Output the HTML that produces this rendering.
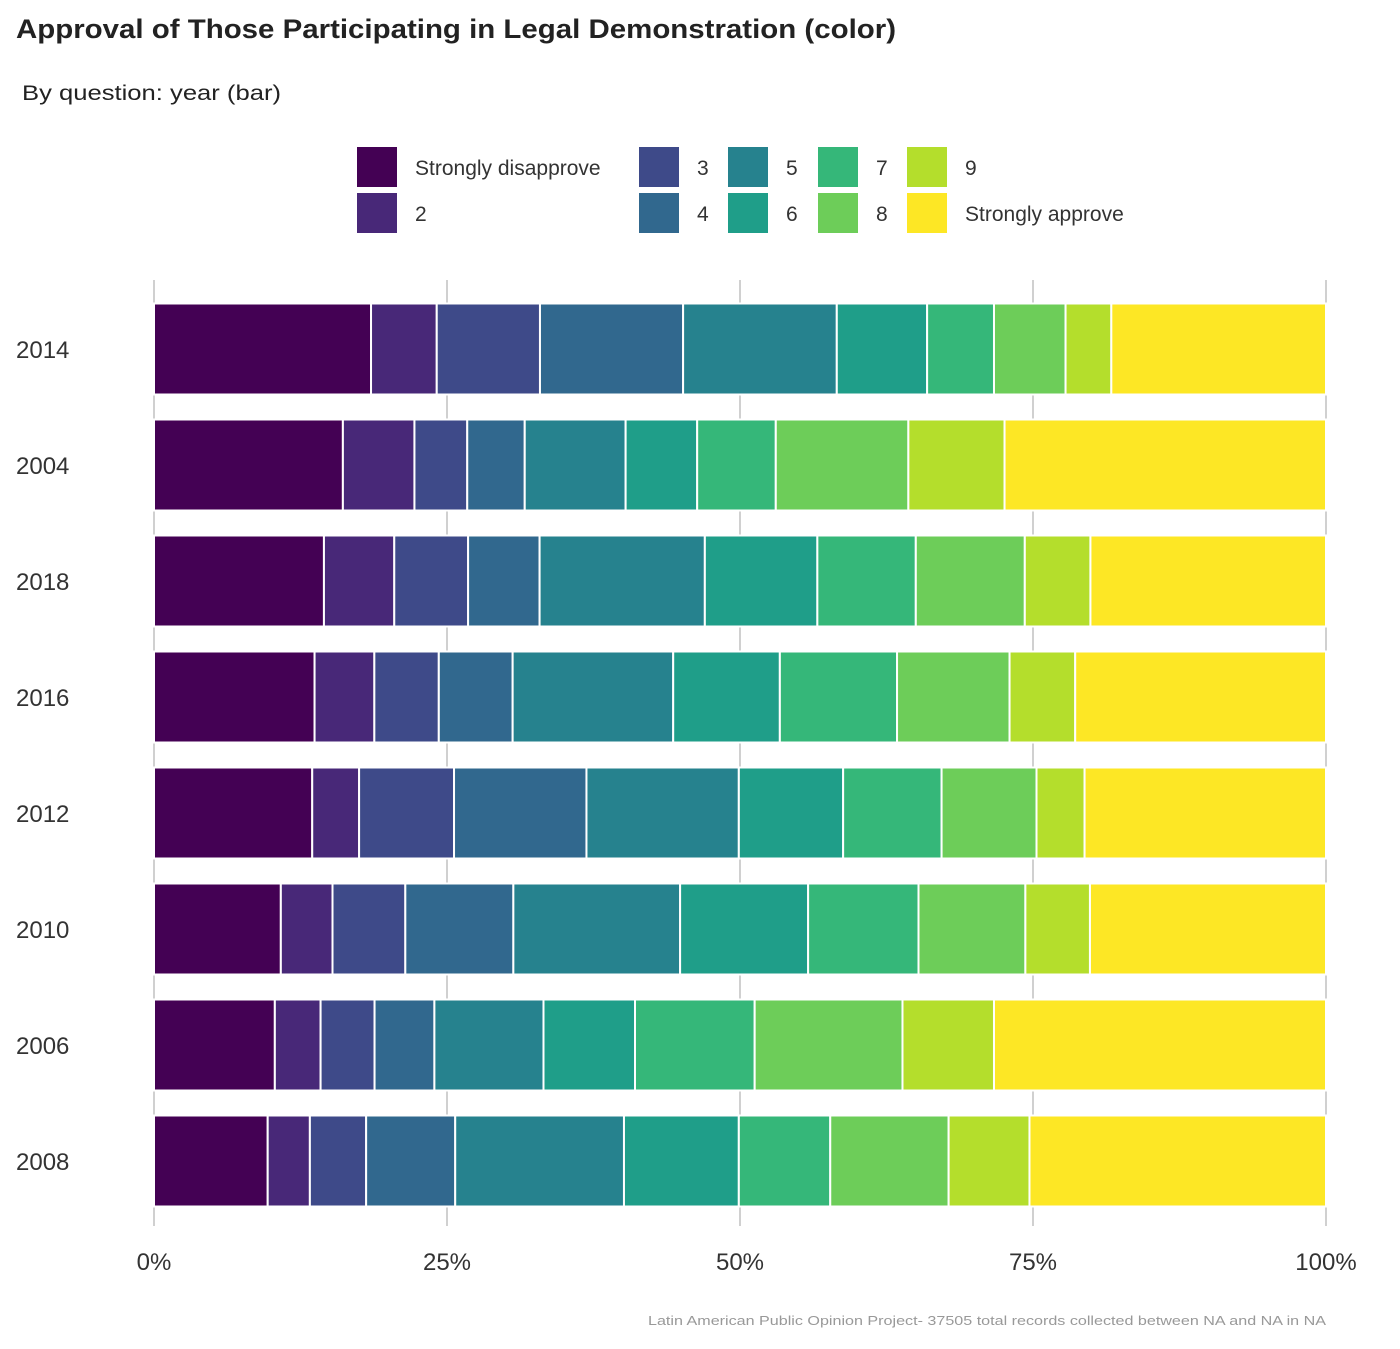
<!DOCTYPE html>
<html><head><meta charset="utf-8"><style>
body{margin:0;background:#fff;font-family:"Liberation Sans",sans-serif;}
</style></head><body>
<svg id="chart" width="1400" height="1344" xmlns="http://www.w3.org/2000/svg" font-family="Liberation Sans, sans-serif">
<text x="16" y="38" font-size="27" font-weight="bold" fill="#222" textLength="880" lengthAdjust="spacingAndGlyphs">Approval of Those Participating in Legal Demonstration (color)</text>
<text x="22" y="100" font-size="21" fill="#222" textLength="259" lengthAdjust="spacingAndGlyphs">By question: year (bar)</text>
<g id="grid"></g><g id="bars"></g><g id="legend"></g><g id="axes"></g>
<text x="648" y="1325" font-size="13" fill="#999" textLength="678" lengthAdjust="spacingAndGlyphs">Latin American Public Opinion Project- 37505 total records collected between NA and NA in  NA</text>
</svg>
<script>
const years=["2014","2004","2018","2016","2012","2010","2006","2008"];
const categories=["Strongly disapprove","2","3","4","5","6","7","8","9","Strongly approve"];
const v2014=[18.5,5.6,8.8,12.2,13.1,7.7,5.7,6.1,3.9,18.3];
const v2004=[16.1,6.1,4.5,4.9,8.6,6.1,6.7,11.3,8.2,27.4];
const v2018=[14.5,6.0,6.3,6.1,14.1,9.6,8.4,9.3,5.6,20.1];
const v2016=[13.7,5.1,5.5,6.3,13.7,9.1,10.0,9.6,5.6,21.4];
const v2012=[13.5,4.0,8.1,11.3,13.0,8.9,8.4,8.1,4.1,20.6];
const v2010=[10.8,4.4,6.2,9.2,14.2,10.9,9.4,9.1,5.5,20.1];
const v2006=[10.3,3.9,4.6,5.1,9.3,7.8,10.2,12.6,7.8,28.3];
const v2008=[9.7,3.6,4.8,7.6,14.4,9.8,7.8,10.1,6.9,25.3];
const xTicks=[0,25,50,75,100];
const xTickLabels=["0%","25%","50%","75%","100%"];
const seriesByYear=[v2014,v2004,v2018,v2016,v2012,v2010,v2006,v2008];
const colors=["#440154","#482878","#3E4A89","#31688E","#26828E","#1F9E89","#35B779","#6DCD59","#B4DE2C","#FDE725"];
const NS="http://www.w3.org/2000/svg";
const X0=154,X1=1326,Y0=291,STEP=116,BH=91;
const xs=p=>X0+(X1-X0)*p/100;
const yc=i=>Y0+STEP*i+STEP/2;
function mk(t,a,p){const e=document.createElementNS(NS,t);for(const k in a)e.setAttribute(k,a[k]);p.appendChild(e);return e;}
const grid=document.getElementById('grid'),bars=document.getElementById('bars'),leg=document.getElementById('legend'),axes=document.getElementById('axes');
xTicks.forEach((t,i)=>{
 const l=mk('line',{x1:xs(t),x2:xs(t),y1:280,y2:1226,stroke:'#d0d0d0','stroke-width':2},grid);
 
 
 const tx=mk('text',{x:xs(t),y:1270,'font-size':24,fill:'#333','text-anchor':'middle'},axes);
 tx.textContent=xTickLabels[i];
 
 
});
years.forEach((yr,i)=>{
 const vals=seriesByYear[i];const tot=vals.reduce((a,b)=>a+b,0);let c=0;
 vals.forEach((v,j)=>{
  const p0=c/tot*100;c+=v;const p1=c/tot*100;
  const r=mk('rect',{x:xs(p0),y:yc(i)-BH/2,width:xs(p1)-xs(p0),height:BH,fill:colors[j],stroke:'#fff','stroke-width':2},bars);
  
  
 });
 const t=mk('text',{x:16,y:yc(i)+9,'font-size':24,fill:'#333'},axes);
 t.textContent=yr;
 
 
});
const colX=[357,639,728,818,907];
categories.forEach((c,k)=>{
 const col=Math.floor(k/2),row=k%2;
 const x=colX[col],y=147+row*46;
 const s=mk('rect',{x:x,y:y,width:40,height:40,fill:colors[k]},leg);
 
 
 const t=mk('text',{x:x+58,y:y+28,'font-size':21,fill:'#333'},leg);
 t.textContent=c;
 
 
});
</script>
</body></html>
